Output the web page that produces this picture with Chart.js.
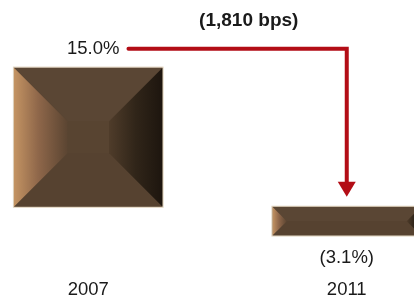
<!DOCTYPE html>
<html>
<head>
<meta charset="utf-8">
<script src="https://cdn.jsdelivr.net/npm/chart.js@4.4.1/dist/chart.umd.min.js"></script>
<style>
  html, body { margin: 0; padding: 0; background: #ffffff; overflow: hidden; width: 414px; height: 300px; }
  #wrap { position: absolute; left: -41px; top: 0; width: 517px; height: 300px; }
</style>
</head>
<body>
<div id="wrap"><canvas id="c" width="517" height="300"></canvas></div>
<script>
// ---- data ----
const categories = ['2007', '2011'];
const values = [15.0, -3.1];
const valueLabels = ['15.0%', '(3.1%)'];
const changeLabel = '(1,810 bps)';

const FONT = '"Liberation Sans", Arial, sans-serif';
const TEXT = '#1a1a1a';
const RED = '#b30d16';

function bevelBars(chart) {
  const ctx = chart.ctx;
  const meta = chart.getDatasetMeta(0);
  ctx.save();
  meta.data.forEach((el) => {
    const p = el.getProps(['x', 'y', 'base', 'width'], true);
    const L = p.x - p.width / 2, R = p.x + p.width / 2;
    const T = Math.min(p.y, p.base), B = Math.max(p.y, p.base);
    const h = B - T;
    const b = Math.min(p.width * 0.36, h / 2);
    // body
    ctx.fillStyle = '#584431';
    ctx.fillRect(L, T, R - L, h);
    // top
    ctx.beginPath();
    ctx.moveTo(L, T); ctx.lineTo(R, T); ctx.lineTo(R - b, T + b); ctx.lineTo(L + b, T + b); ctx.closePath();
    ctx.fillStyle = '#5a4634'; ctx.fill();
    // bottom
    ctx.beginPath();
    ctx.moveTo(L, B); ctx.lineTo(R, B); ctx.lineTo(R - b, B - b); ctx.lineTo(L + b, B - b); ctx.closePath();
    ctx.fillStyle = '#564230'; ctx.fill();
    // left
    let g = ctx.createLinearGradient(L, 0, L + b, 0);
    g.addColorStop(0, '#c49463');
    g.addColorStop(0.45, '#8f674a');
    g.addColorStop(1, '#5b4532');
    ctx.beginPath();
    ctx.moveTo(L, T); ctx.lineTo(L + b, T + b); ctx.lineTo(L + b, B - b); ctx.lineTo(L, B); ctx.closePath();
    ctx.fillStyle = g; ctx.fill();
    // right
    g = ctx.createLinearGradient(R, 0, R - b, 0);
    g.addColorStop(0, '#1d150e');
    g.addColorStop(0.5, '#302519');
    g.addColorStop(1, '#4f3c2a');
    ctx.beginPath();
    ctx.moveTo(R, T); ctx.lineTo(R - b, T + b); ctx.lineTo(R - b, B - b); ctx.lineTo(R, B); ctx.closePath();
    ctx.fillStyle = g; ctx.fill();
    // light edge
    ctx.strokeStyle = 'rgba(215,198,170,0.8)';
    ctx.lineWidth = 1;
    ctx.strokeRect(L - 0.5, T - 0.5, R - L + 1, h + 1);
  });
  ctx.restore();
}

const annotate = {
  id: 'annotate',
  afterDatasetsDraw(chart) {
    bevelBars(chart);
    const ctx = chart.ctx;
    const meta = chart.getDatasetMeta(0);
    const ys = chart.scales.y;
    const e0 = meta.data[0], e1 = meta.data[1];
    const zeroY = ys.getPixelForValue(0);
    ctx.save();
    ctx.fillStyle = TEXT;
    ctx.textAlign = 'center';
    ctx.textBaseline = 'middle';
    ctx.font = '18.5px ' + FONT;
    // value labels
    const lab0Y = ys.getPixelForValue(values[0]) - 19;
    const lab0X = e0.x + 5;
    ctx.fillText(valueLabels[0], lab0X, lab0Y);
    const w0 = ctx.measureText(valueLabels[0]).width;
    const lab1Y = ys.getPixelForValue(values[1]) + 22;
    ctx.fillText(valueLabels[1], e1.x, lab1Y);
    // arrow
    const startX = lab0X + w0 / 2 + 9;
    const tipY = zeroY - 10;
    ctx.strokeStyle = RED;
    ctx.fillStyle = RED;
    ctx.lineWidth = 4;
    ctx.lineCap = 'round';
    ctx.lineJoin = 'miter';
    ctx.beginPath();
    ctx.moveTo(startX, lab0Y);
    ctx.lineTo(e1.x, lab0Y);
    ctx.lineTo(e1.x, tipY - 12);
    ctx.stroke();
    ctx.beginPath();
    ctx.moveTo(e1.x - 9, tipY - 15);
    ctx.lineTo(e1.x + 9, tipY - 15);
    ctx.lineTo(e1.x, tipY);
    ctx.closePath();
    ctx.fill();
    // change label
    ctx.fillStyle = TEXT;
    ctx.font = 'bold 19px ' + FONT;
    ctx.fillText(changeLabel, e1.x - 98, lab0Y - 28);
    ctx.restore();
  }
};

new Chart(document.getElementById('c'), {
  type: 'bar',
  data: {
    labels: categories,
    datasets: [{
      data: values,
      backgroundColor: 'rgba(0,0,0,0)',
      borderWidth: 0,
      categoryPercentage: 1,
      barPercentage: 0.575
    }]
  },
  options: {
    responsive: false,
    animation: false,
    layout: { padding: { top: 0, left: 0, right: 0, bottom: -4 } },
    plugins: { legend: { display: false }, tooltip: { enabled: false } },
    scales: {
      x: {
        grid: { display: false, drawTicks: false },
        border: { display: false },
        ticks: { color: TEXT, font: { family: FONT, size: 18.5 }, padding: 3 }
      },
      y: {
        display: false,
        min: -7.44,
        max: 22.29
      }
    }
  },
  plugins: [annotate]
});
</script>
</body>
</html>
